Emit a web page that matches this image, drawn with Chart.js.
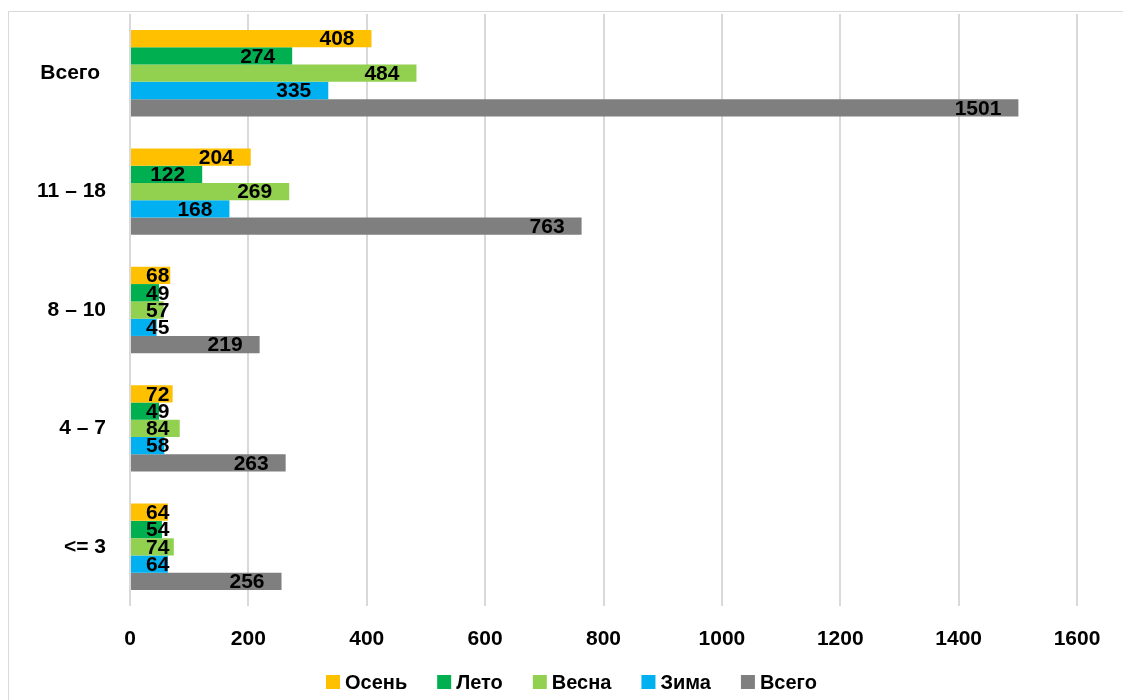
<!DOCTYPE html>
<html>
<head>
<meta charset="utf-8">
<script src="https://cdn.jsdelivr.net/npm/chart.js@4"></script>
<style>
html,body{margin:0;padding:0;background:#fff;}
#wrap{position:relative;width:1123px;height:700px;}
canvas{display:block;}
</style>
</head>
<body>
<div id="wrap"><canvas id="c" width="1123" height="700"></canvas></div>
<script>
const categories = ['Всего ', '11 – 18', '8 – 10', '4 – 7', '<= 3'];
const seriesNames = ['Осень', 'Лето', 'Весна', 'Зима', 'Всего'];
const autumn = [408, 204, 68, 72, 64];
const summer = [274, 122, 49, 49, 54];
const spring = [484, 269, 57, 84, 74];
const winter = [335, 168, 45, 58, 64];
const total  = [1501, 763, 219, 263, 256];
const xTicks = [0, 200, 400, 600, 800, 1000, 1200, 1400, 1600];
const colors = ['#FFC000', '#00B050', '#92D050', '#00B0F0', '#7F7F7F'];
const seriesValues = [autumn, summer, spring, winter, total];

const FONT = "'Liberation Sans', Arial, sans-serif";

const framePlugin = {
  id: 'frame',
  beforeDraw(chart) {
    const ctx = chart.ctx;
    ctx.save();
    ctx.fillStyle = '#fff';
    ctx.fillRect(0, 0, chart.width, chart.height);
    ctx.strokeStyle = '#d9d9d9';
    ctx.lineWidth = 1;
    ctx.beginPath();
    ctx.moveTo(8.5, chart.height);
    ctx.lineTo(8.5, 11.5);
    ctx.lineTo(chart.width, 11.5);
    ctx.stroke();
    ctx.restore();
  }
};

const labelPlugin = {
  id: 'barLabels',
  afterDatasetsDraw(chart) {
    const ctx = chart.ctx;
    const xs = chart.scales.x;
    const x0 = xs.getPixelForValue(0);
    ctx.save();
    ctx.font = 'bold 21px ' + FONT;
    ctx.fillStyle = '#000';
    ctx.textAlign = 'right';
    ctx.textBaseline = 'middle';
    chart.data.datasets.forEach((ds, i) => {
      const meta = chart.getDatasetMeta(i);
      meta.data.forEach((bar, j) => {
        const t = String(ds.data[j]);
        const w = ctx.measureText(t).width;
        const right = Math.max(bar.x - 17, x0 + 16 + w);
        ctx.fillText(t, right, bar.y + 1);
      });
    });
    ctx.restore();
  }
};

const legendPlugin = {
  id: 'customLegend',
  afterDraw(chart) {
    const ctx = chart.ctx;
    ctx.save();
    ctx.font = 'bold 20px ' + FONT;
    ctx.textBaseline = 'middle';
    ctx.textAlign = 'left';
    let x = 326;
    const y = 682;
    chart.data.datasets.forEach((ds) => {
      ctx.fillStyle = ds.backgroundColor;
      ctx.fillRect(x, y - 7, 14, 14);
      ctx.fillStyle = '#000';
      const w = ctx.measureText(ds.label).width;
      ctx.fillText(ds.label, x + 19, y + 1);
      x += 19 + w + 30;
    });
    ctx.restore();
  }
};

new Chart(document.getElementById('c'), {
  type: 'bar',
  data: {
    labels: categories,
    datasets: seriesNames.map((n, i) => ({
      label: n,
      data: seriesValues[i],
      backgroundColor: colors[i],
      borderWidth: 0,
      categoryPercentage: 0.73,
      barPercentage: 1.0
    }))
  },
  options: {
    indexAxis: 'y',
    responsive: false,
    animation: false,
    layout: { padding: { left: 0, right: 46, top: 14, bottom: 0 } },
    plugins: { legend: { display: false }, tooltip: { enabled: false } },
    scales: {
      x: {
        min: 0, max: 1600,
        afterBuildTicks(s) { s.ticks = xTicks.map(v => ({ value: v })); },
        afterFit(s) { s.height = 94; s.paddingLeft = 0; s.paddingRight = 0; },
        grid: { color: '#d9d9d9', lineWidth: 2, drawTicks: false },
        border: { display: false },
        ticks: { color: '#000', padding: 21, callback: (v) => String(v), font: { family: FONT, size: 21, weight: 'bold' } }
      },
      y: {
        afterFit(s) { s.width = 130; s.paddingTop = 0; s.paddingBottom = 0; },
        grid: { display: false, drawTicks: false },
        border: { display: false },
        ticks: { color: '#000', padding: 24, font: { family: FONT, size: 21, weight: 'bold' } }
      }
    }
  },
  plugins: [framePlugin, labelPlugin, legendPlugin]
});
</script>
</body>
</html>
